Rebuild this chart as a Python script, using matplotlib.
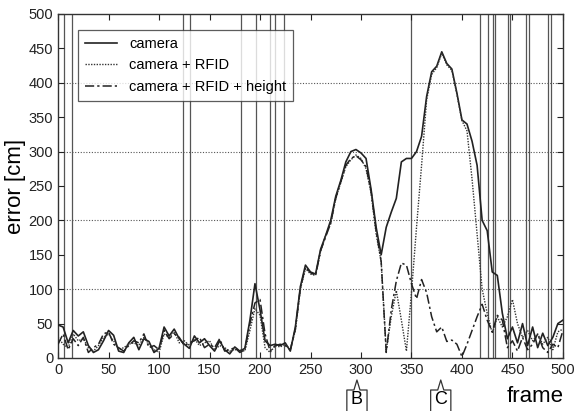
import numpy as np
import matplotlib.pyplot as plt
from matplotlib.transforms import blended_transform_factory

plt.rcParams['font.family'] = ['Liberation Sans', 'DejaVu Sans']

# frame index of every sample (one value per 5 frames)
frames = np.arange(0, 501, 5)

camera = [48, 45, 22, 40, 32, 38, 18, 8, 12, 25,
          40, 33, 10, 8, 22, 30, 12, 28, 24, 8,
          14, 45, 32, 42, 28, 20, 14, 32, 22, 28,
          18, 10, 25, 12, 6, 16, 10, 14, 55, 108,
          70, 25, 18, 20, 18, 22, 10, 45, 104, 135,
          125, 122, 158, 178, 200, 235, 258, 285, 300, 303,
          298, 290, 245, 190, 150, 190, 212, 232, 285, 290,
          290, 300, 322, 380, 416, 424, 445, 428, 420, 385,
          346, 340, 315, 280, 200, 185, 125, 120, 65, 28,
          45, 22, 50, 18, 45, 15, 36, 18, 30, 50,
          55]

camera_rfid = [30, 20, 15, 35, 25, 28, 15, 10, 18, 30,
               35, 25, 12, 15, 20, 22, 18, 30, 20, 12,
               8, 35, 30, 38, 22, 25, 18, 28, 18, 22,
               25, 12, 18, 15, 10, 12, 12, 10, 40, 72,
               62, 15, 8, 18, 16, 20, 12, 40, 100, 130,
               122, 120, 155, 178, 195, 232, 255, 278, 288, 295,
               290, 275, 240, 180, 140, 10, 60, 98, 55, 10,
               95, 190, 280, 375, 412, 422, 443, 426, 418, 383,
               345, 330, 260, 180, 100, 65, 36, 60, 45, 60,
               85, 50, 30, 40, 25, 35, 20, 30, 12, 38,
               42]

camera_rfid_height = [20, 35, 12, 28, 18, 30, 8, 15, 20, 35,
                      38, 20, 15, 10, 18, 25, 22, 35, 15, 18,
                      12, 40, 28, 35, 30, 18, 22, 25, 30, 15,
                      20, 15, 28, 10, 12, 15, 8, 12, 50, 80,
                      85, 35, 10, 18, 20, 18, 12, 42, 102, 132,
                      124, 120, 156, 176, 196, 232, 256, 280, 290, 294,
                      288, 278, 242, 185, 140, 8, 70, 112, 138, 135,
                      108, 86, 114, 95, 60, 38, 45, 24, 26, 20,
                      2, 20, 40, 60, 78, 55, 38, 62, 55, 15,
                      25, 10, 30, 12, 20, 35, 15, 8, 20, 15,
                      40]

# frames with a vertical marker line
event_frames = [6, 14, 124, 131, 181, 196, 210, 215, 224, 350,
                418, 426, 431, 433, 446, 448, 463, 466, 485, 488]

# boxed labels under the x axis
box_labels = ['B', 'C']
box_frames = [296, 379]

fig = plt.figure(figsize=(5.75, 4.11), dpi=100)
ax = fig.add_axes([0.101, 0.129, 0.878, 0.837])

for f in event_frames:
    ax.axvline(f, color='#555555', lw=0.9, zorder=1)
for yv in [100, 200, 300, 400]:
    ax.axhline(yv, color='#555555', lw=0.8, ls=(0, (1, 1.5)), zorder=1)

ax.plot(frames, camera, color='#222222', lw=1.2, ls='-', label='camera', zorder=3)
ax.plot(frames, camera_rfid, color='#333333', lw=1.0, ls=(0, (1, 1)),
        label='camera + RFID', zorder=3)
ax.plot(frames, camera_rfid_height, color='#222222', lw=1.1, ls=(0, (6, 2, 1.5, 2)),
        label='camera + RFID + height', zorder=3)

ax.set_xlim(0, 500)
ax.set_ylim(0, 500)
ax.set_xticks(np.arange(0, 501, 50))
ax.set_yticks(np.arange(0, 501, 50))
ax.tick_params(direction='in', top=True, right=True, labelsize=10.5, length=4,
               colors='#222222')
for s in ax.spines.values():
    s.set_color('#333333')
    s.set_linewidth(1.0)

ax.set_ylabel('error [cm]', fontsize=16, labelpad=2)
fig.text(0.98, 0.035, 'frame', fontsize=16, ha='right', va='center')

leg = ax.legend(loc='upper left', bbox_to_anchor=(0.025, 0.975), fontsize=10.5,
                frameon=True, fancybox=False, edgecolor='#333333',
                handlelength=2.2, labelspacing=0.5, borderpad=0.5)
leg.get_frame().set_linewidth(0.9)

# callout boxes B and C
tr = blended_transform_factory(ax.transData, fig.transFigure)
ytop = 1 - 390 / 411
ypk = 1 - 380 / 411
for lab, f in zip(box_labels, box_frames):
    xs = [f - 10, f - 10, f - 3, f, f + 3, f + 10, f + 10]
    ys = [-0.01, ytop, ytop, ypk, ytop, ytop, -0.01]
    fig.add_artist(plt.Line2D(xs, ys, transform=tr, color='#333333', lw=0.9))
    fig.text(f, 0.008, lab, transform=tr, fontsize=13, ha='center', va='bottom')

fig.savefig('out.png', dpi=100)
